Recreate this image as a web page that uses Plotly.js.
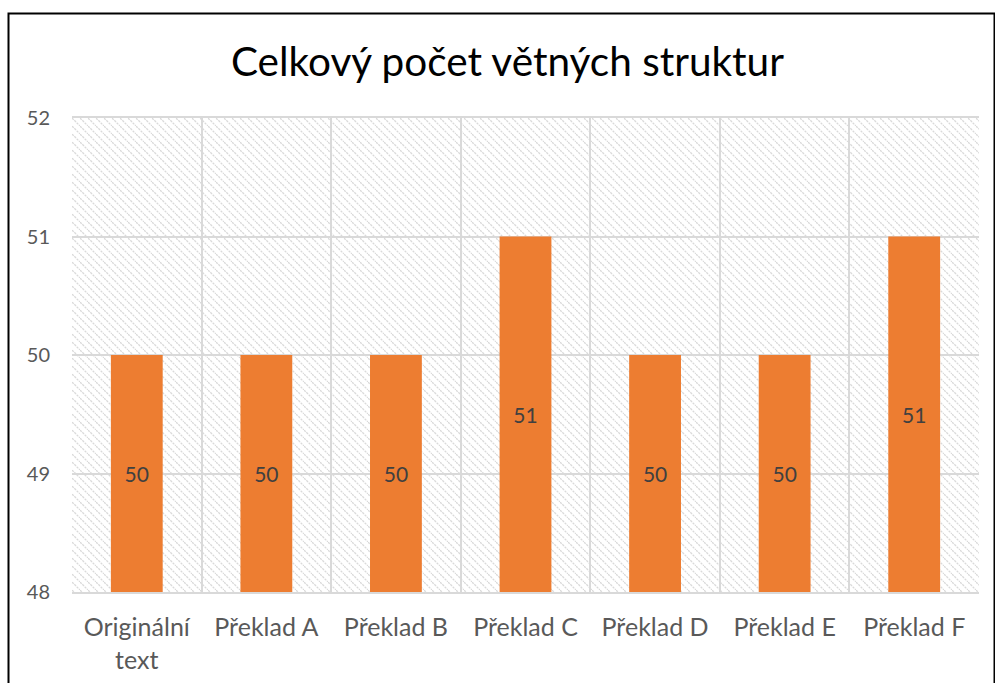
<!DOCTYPE html>
<html>
<head>
<meta charset="utf-8">
<script src="https://cdn.plot.ly/plotly-3.0.1.min.js"></script>
<style>html,body{margin:0;padding:0;background:#fff;}#chart{width:995px;height:683px;}</style>
</head>
<body>
<div id="chart"></div>
<script>
const chartTitle = "Celkový počet větných struktur";
const categories = ["Originální<br>text", "Překlad A", "Překlad B", "Překlad C", "Překlad D", "Překlad E", "Překlad F"];
const values = [50, 50, 50, 51, 50, 50, 51];
const yMin = 48;
const yMax = 52;
const yTicks = [48, 49, 50, 51, 52];

const font = "Lato, 'Open Sans', sans-serif";

// hatched plot-area background (decorative)
const W = 907, H = 474;
const hatchSvg =
  '<svg xmlns="http://www.w3.org/2000/svg" width="' + W + '" height="' + H + '" viewBox="0 0 ' + W + ' ' + H + '">' +
  '<defs><pattern id="p" width="8" height="8" patternUnits="userSpaceOnUse">' +
  '<g stroke="#dadada" stroke-width="1.3" stroke-dasharray="2.4 0.9">' +
  '<line x1="0" y1="0" x2="8" y2="8"/><line x1="-2" y1="6" x2="2" y2="10"/><line x1="6" y1="-2" x2="10" y2="2"/>' +
  '</g></pattern></defs>' +
  '<rect width="' + W + '" height="' + H + '" fill="#ffffff"/>' +
  '<rect width="' + W + '" height="' + H + '" fill="url(#p)"/></svg>';
const hatchUri = "data:image/svg+xml;base64," + btoa(hatchSvg);

const bars = {
  type: "bar",
  x: categories,
  y: values.map(v => v - yMin),
  base: yMin,
  width: 0.4,
  text: values.map(String),
  textposition: "inside",
  insidetextanchor: "middle",
  textangle: 0,
  textfont: {family: font, size: 21, color: "#404040"},
  marker: {color: "#ED7D31", line: {width: 0}},
  showlegend: false
};

const layout = {
  width: 995,
  height: 683,
  margin: {l: 72, r: 16, t: 118, b: 91},
  paper_bgcolor: "#ffffff",
  plot_bgcolor: "#ffffff",
  title: {
    text: chartTitle,
    font: {family: font, size: 40.5, color: "#000000"},
    xref: "container", x: 0.51, xanchor: "center",
    yref: "container", y: 1 - 62 / 683, yanchor: "middle"
  },
  images: [{
    source: hatchUri,
    xref: "paper", yref: "paper",
    x: 0, y: 1, sizex: 1, sizey: 1,
    xanchor: "left", yanchor: "top",
    sizing: "stretch", layer: "below"
  }],
  xaxis: {
    type: "category",
    range: [-0.5, categories.length - 0.5],
    tickson: "boundaries",
    ticks: "",
    showgrid: true,
    gridcolor: "#d9d9d9",
    gridwidth: 2,
    showline: true,
    linecolor: "#d9d9d9",
    linewidth: 2,
    mirror: true,
    zeroline: false,
    tickfont: {family: font, size: 25, color: "#595959"},
    ticklabelstandoff: 12
  },
  yaxis: {
    range: [yMin, yMax],
    tickvals: yTicks,
    ticktext: yTicks.map(String),
    showgrid: true,
    gridcolor: "#d9d9d9",
    gridwidth: 2,
    zeroline: false,
    showline: false,
    ticks: "",
    tickfont: {family: font, size: 20, color: "#595959"},
    ticklabelstandoff: 21
  },
  shapes: [{
    type: "rect", xref: "paper", yref: "paper",
    x0: (8.5 - 72) / 907, x1: (994.5 - 72) / 907,
    y0: -0.3, y1: (592 - 13.5) / 474,
    line: {color: "#000000", width: 2},
    fillcolor: "rgba(0,0,0,0)",
    layer: "above"
  }]
};

Plotly.newPlot("chart", [bars], layout, {displayModeBar: false, staticPlot: true});
</script>
</body>
</html>
